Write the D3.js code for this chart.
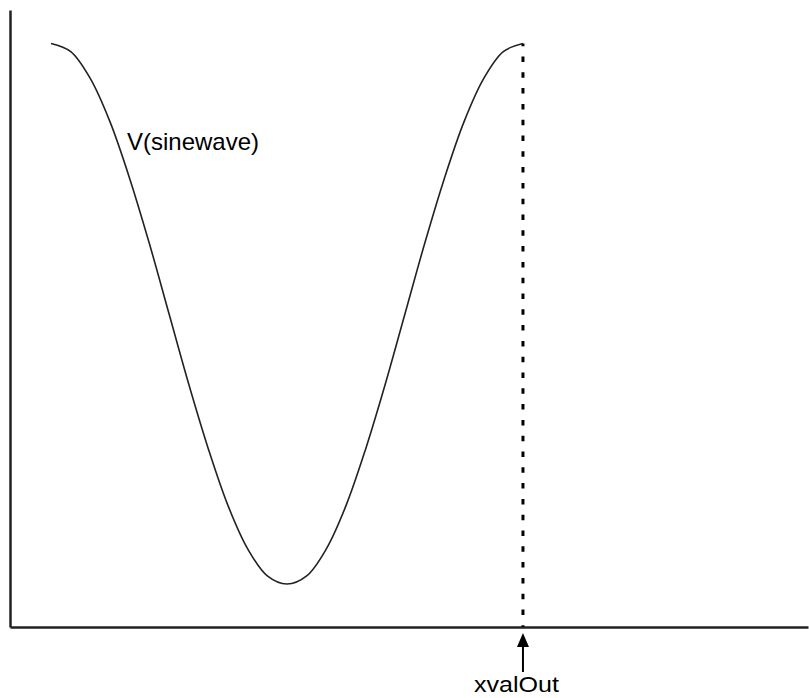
<!DOCTYPE html>
<html>
<head>
<meta charset="utf-8">
<script src="https://cdn.jsdelivr.net/npm/d3@7"></script>
<style>
  html, body { margin: 0; padding: 0; background: #fff; }
  svg { display: block; }
  text { font-family: "Liberation Sans", Arial, sans-serif; fill: #000; }
</style>
</head>
<body>
<script>
// ---- data ----
// time, in fractions of one period of the sine wave
const timePoints = [0, 0.0417, 0.0833, 0.125, 0.1667, 0.2083, 0.25, 0.2917, 0.3333, 0.375, 0.4167, 0.4583,
                    0.5, 0.5417, 0.5833, 0.625, 0.6667, 0.7083, 0.75, 0.7917, 0.8333, 0.875, 0.9167, 0.9583, 1];
// V(sinewave), normalised amplitude
const voltageValues = [1.00, 0.97, 0.87, 0.71, 0.50, 0.26, 0.00, -0.26, -0.50, -0.71, -0.87, -0.97,
                       -1.00, -0.97, -0.87, -0.71, -0.50, -0.26, 0.00, 0.26, 0.50, 0.71, 0.87, 0.97, 1.00];
const seriesLabel = "V(sinewave)";
const cursorLabel = "xvalOut";
const cursorTime = 1;       // cursor position (time)
const xDomain = [-0.087, 1.604];
const yDomain = [-1.159, 1.124];

const W = 809, H = 698;
const svg = d3.select("body").append("svg").attr("width", W).attr("height", H);

const x = d3.scaleLinear().domain(xDomain).range([10, 808]);
const y = d3.scaleLinear().domain(yDomain).range([627, 10]);

// axes (lines only, no ticks)
svg.append("g").attr("transform", `translate(0,${y(yDomain[0])})`)
  .call(d3.axisBottom(x).tickValues([]).tickSizeOuter(0));
svg.append("g").attr("transform", `translate(${x(xDomain[0])},0)`)
  .call(d3.axisLeft(y).tickValues([]).tickSizeOuter(0));
svg.selectAll(".domain").attr("stroke", "#222").attr("stroke-width", 2.5);

// cursor dashed line
const cx = x(cursorTime);
const yTop = y(voltageValues[voltageValues.length - 1]);
svg.append("line")
  .attr("x1", cx).attr("x2", cx)
  .attr("y1", yTop).attr("y2", y(yDomain[0]))
  .attr("stroke", "#000").attr("stroke-width", 3)
  .attr("stroke-dasharray", "5.5,10.3")
  .attr("stroke-dashoffset", 2.8);

// the curve
const data = timePoints.map((t, i) => ({ t, v: voltageValues[i] }));
const line = d3.line().x(d => x(d.t)).y(d => y(d.v)).curve(d3.curveCatmullRom);
svg.append("path").datum(data)
  .attr("d", line)
  .attr("fill", "none")
  .attr("stroke", "#222")
  .attr("stroke-width", 1.6);

// series label
svg.append("text")
  .attr("x", 127).attr("y", 150)
  .attr("font-size", 24)
  .text(seriesLabel);

// arrow below x axis pointing to cursor
const axisY = y(yDomain[0]);
svg.append("line")
  .attr("x1", cx).attr("x2", cx)
  .attr("y1", axisY + 19).attr("y2", axisY + 45)
  .attr("stroke", "#000").attr("stroke-width", 2);
svg.append("path")
  .attr("d", `M${cx},${axisY + 6} L${cx - 6},${axisY + 20} L${cx + 6},${axisY + 20} Z`)
  .attr("fill", "#000");

svg.append("text")
  .attr("x", 474).attr("y", 692)
  .attr("font-size", 22)
  .attr("textLength", 85)
  .attr("lengthAdjust", "spacingAndGlyphs")
  .text(cursorLabel);
</script>
</body>
</html>
